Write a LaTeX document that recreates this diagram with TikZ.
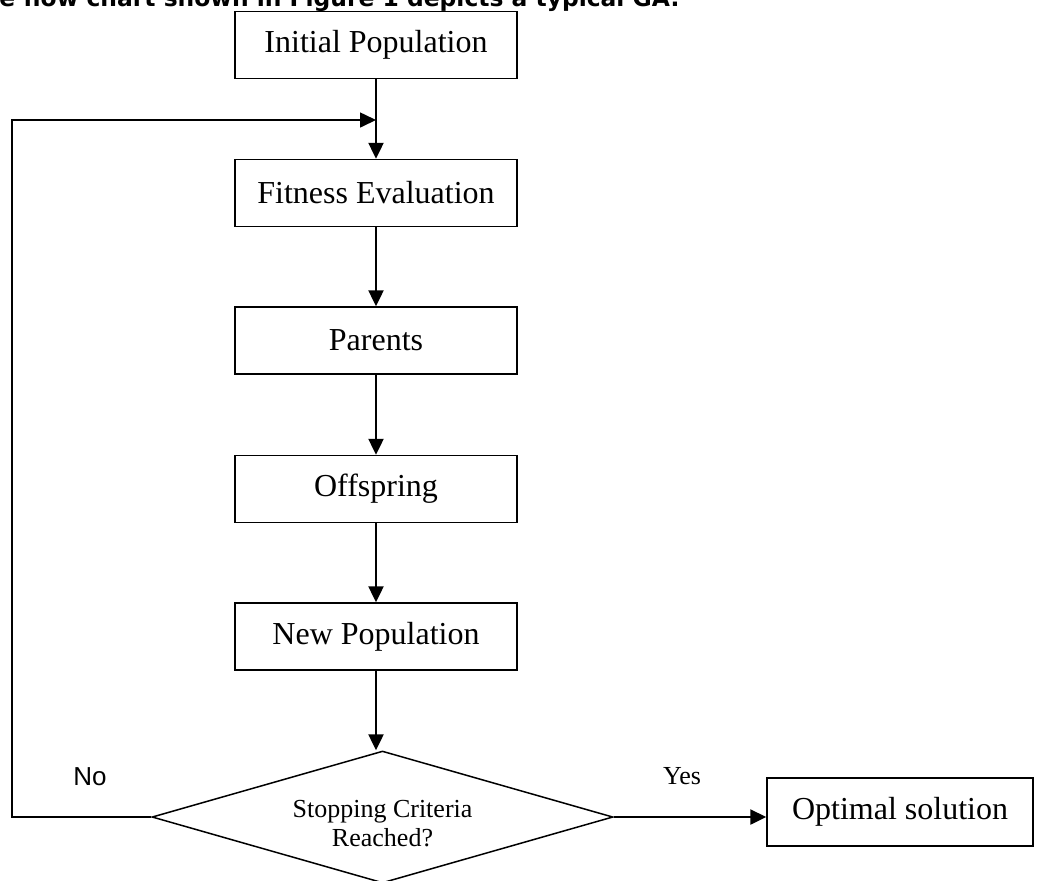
\documentclass[tikz,border=0pt]{standalone}
\usepackage{fontspec}
\setmainfont{Liberation Serif}
\setsansfont{Liberation Sans}
\newfontfamily\headfont{DejaVu Sans}
\usetikzlibrary{arrows.meta,positioning,shapes.geometric}

\begin{document}
\begin{tikzpicture}[x=0.5pt,y=-0.5pt,
    box/.style={draw,line width=0.75pt,minimum width=141pt,minimum height=33.5pt,
        inner sep=0pt,font=\fontsize{16}{18}\selectfont},
    decision/.style={draw,diamond,aspect=3.5,line width=0.75pt,minimum width=230.5pt,minimum height=66pt,
        inner sep=0pt,align=center,font=\fontsize{13}{14.5}\selectfont},
    flow/.style={-{Triangle[length=8pt,width=7.5pt]},line width=1.2pt},
    loop/.style={-{Triangle[length=8pt,width=7.5pt]},line width=0.8pt},
    label/.style={font=\fontsize{13}{15}\selectfont}]
\clip (0,0) rectangle (1037,880);
\node[anchor=base west,font=\headfont\bfseries\fontsize{11.7}{13}\selectfont,inner sep=0pt] (head) at (-1,6)
    {e flow chart shown in Figure 1 depicts a typical GA:};
\node[box] (init) at (376,45) {Initial Population};
\node[box] (fit) at (376,193) {Fitness Evaluation};
\node[box] (par) at (376,340.5) {Parents};
\node[box] (off) at (376,489) {Offspring};
\node[box] (newpop) at (376,636.5) {New Population};
\node[decision] (stop) at (382.5,817) {\rule{0pt}{15pt}Stopping Criteria\\Reached?};
\node[box,minimum width=133pt,minimum height=34pt] (opt) at (900,812) {Optimal solution};
\node[label] (yes) at (682,776) {Yes};
\node[label,font=\sffamily\fontsize{13}{15}\selectfont] (no) at (90,777) {No};
\coordinate (corner) at (12,120);
\coordinate (join) at (376,120);
\draw[flow] (init) -- (fit);
\draw[flow] (fit) -- (par);
\draw[flow] (par) -- (off);
\draw[flow] (off) -- (newpop);
\draw[flow] (newpop.south) -- (newpop.south |- stop.north);
\draw[flow] (stop.east) -- (stop.east -| opt.west);
\draw[loop] (stop.west) -| (corner) -- (join);
\end{tikzpicture}
\end{document}
